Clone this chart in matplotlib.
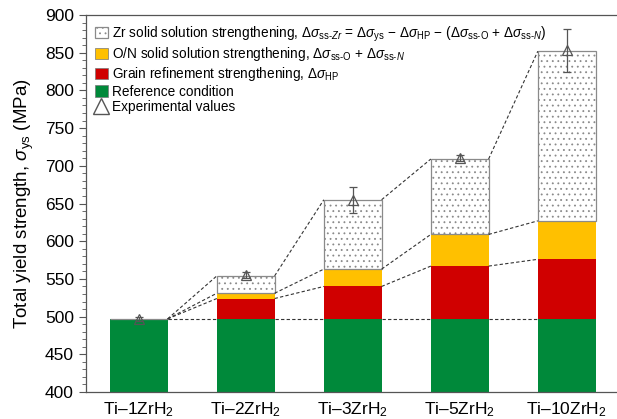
import matplotlib
matplotlib.use("Agg")
import matplotlib.pyplot as plt
from matplotlib.patches import Patch
from matplotlib.lines import Line2D
import numpy as np

plt.rcParams['font.family'] = ['Liberation Sans', 'DejaVu Sans']
plt.rcParams['mathtext.fontset'] = 'custom'
plt.rcParams['mathtext.rm'] = 'Liberation Sans'
plt.rcParams['mathtext.it'] = 'Liberation Sans:italic'
plt.rcParams['mathtext.bf'] = 'Liberation Sans:bold'
plt.rcParams['hatch.linewidth'] = 0.6

categories = ['Ti–1ZrH$_2$', 'Ti–2ZrH$_2$', 'Ti–3ZrH$_2$', 'Ti–5ZrH$_2$', 'Ti–10ZrH$_2$']
reference = [497, 497, 497, 497, 497]
hp_top = [497, 524, 540, 567, 576]        # top of grain refinement
on_top = [497, 531, 563, 609, 627]        # top of O/N solid solution
total = [497, 554, 655, 709, 852]         # total yield strength
exp_vals = [497, 555, 655, 710, 853]
exp_err = [3, 4, 17, 4, 28]

c_green = '#00893a'
c_red = '#d00000'
c_orange = '#ffc000'

fig = plt.figure(figsize=(6.17, 4.19), dpi=100)
ax = fig.add_axes([0.139, 0.0644, 0.861, 0.8998])

x = np.arange(len(categories))
w = 0.54
ref = np.array(reference)
hp = np.array(hp_top)
on = np.array(on_top)
tot = np.array(total)

ax.bar(x, ref, width=w, color=c_green, linewidth=0, zorder=2)
ax.bar(x, hp - ref, bottom=ref, width=w, color=c_red, linewidth=0, zorder=2)
ax.bar(x, on - hp, bottom=hp, width=w, color=c_orange, linewidth=0, zorder=2)
ax.bar(x, tot - on, bottom=on, width=w, facecolor='white', edgecolor='#8a8a8a',
       hatch='...', linewidth=0.9, zorder=2)

# dashed connectors
for i in range(len(x) - 1):
    xr = x[i] + w / 2
    xl = x[i + 1] - w / 2
    for arr in (ref, hp, on, tot):
        ax.plot([xr, xl], [arr[i], arr[i + 1]], ls=(0, (3, 2)), color='#333333',
                lw=0.8, zorder=3)

ax.errorbar(x, exp_vals, yerr=exp_err, fmt='^', mfc='none', mec='#555555',
            ms=7, mew=0.9, ecolor='#555555', elinewidth=0.9, capsize=3, zorder=4)

ax.set_ylim(400, 900)
ax.set_xlim(-0.495, 4.47)
ax.set_yticks(np.arange(400, 901, 50))
ax.set_yticks(np.arange(400, 901, 10), minor=True)
ax.set_xticks(x)
ax.set_xticklabels(categories, fontsize=12.5)
ax.tick_params(axis='x', length=0, pad=6)
ax.tick_params(axis='y', which='major', length=5, width=0.8, color='#555555', labelsize=12.5)
ax.tick_params(axis='y', which='minor', length=3, width=0.6, color='#555555')
for s in ('left', 'bottom', 'top'):
    ax.spines[s].set_color('#555555')
    ax.spines[s].set_linewidth(0.9)
ax.spines['right'].set_visible(False)
ax.set_ylabel(r'Total yield strength, $\sigma_{\rm ys}$ (MPa)', fontsize=13.5, labelpad=6)

handles = [
    Patch(facecolor='white', edgecolor='#8a8a8a', hatch='...', linewidth=0.9),
    Patch(facecolor=c_orange, edgecolor='#777777', linewidth=0.5),
    Patch(facecolor=c_red, edgecolor='#777777', linewidth=0.5),
    Patch(facecolor=c_green, edgecolor='#777777', linewidth=0.5),
    Line2D([], [], marker='^', mfc='none', mec='#555555', ms=12, mew=1.0, ls='none'),
]
labels = [
    r'Zr solid solution strengthening, $\Delta\sigma_{{\rm ss}\text{-}Zr}$ = $\Delta\sigma_{\rm ys}$ $-$ $\Delta\sigma_{\rm HP}$ $-$ ($\Delta\sigma_{{\rm ss}\text{-}{\rm O}}$ + $\Delta\sigma_{{\rm ss}\text{-}N}$)',
    r'O/N solid solution strengthening, $\Delta\sigma_{{\rm ss}\text{-}{\rm O}}$ + $\Delta\sigma_{{\rm ss}\text{-}N}$',
    r'Grain refinement strengthening, $\Delta\sigma_{\rm HP}$',
    'Reference condition',
    'Experimental values',
]
ax.legend(handles, labels, loc='upper left', bbox_to_anchor=(0.0, 1.0), frameon=False,
          fontsize=9.8, handlelength=0.9, handleheight=0.9, handletextpad=0.35,
          labelspacing=0.12, borderaxespad=0.4, borderpad=0.3)

fig.savefig('out.png', dpi=100)
